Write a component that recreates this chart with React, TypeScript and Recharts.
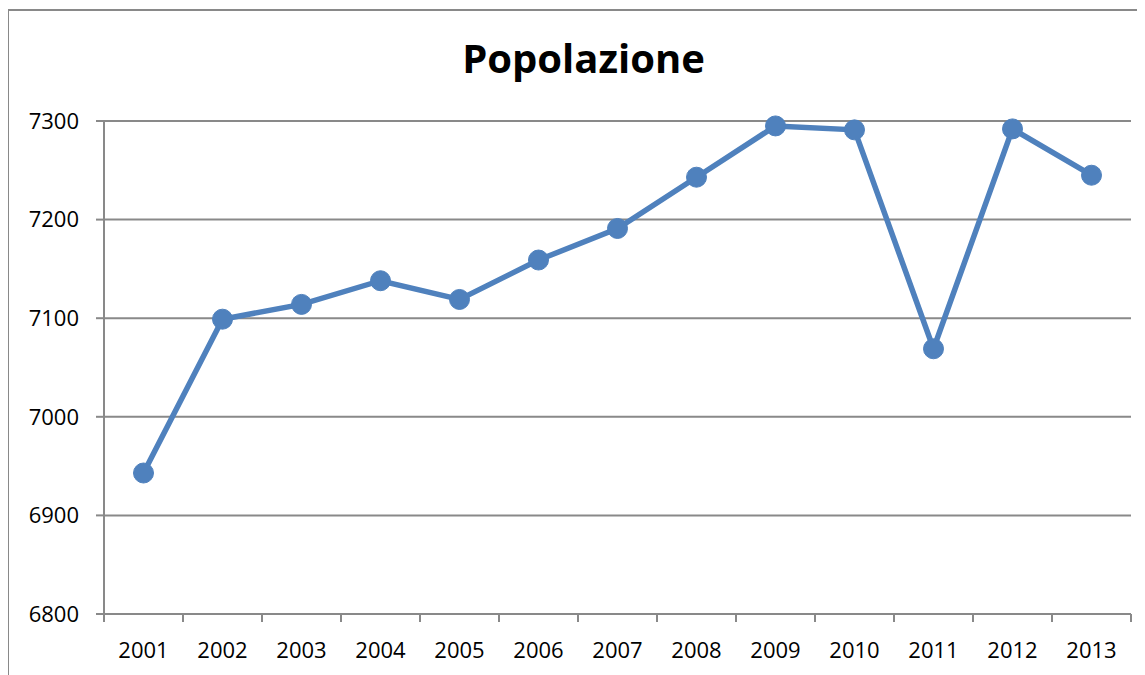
import React from 'react';
import { LineChart, Line, XAxis, YAxis, CartesianGrid } from 'recharts';

const years = ['2001', '2002', '2003', '2004', '2005', '2006', '2007', '2008', '2009', '2010', '2011', '2012', '2013'];
const popolazione = [6943, 7099, 7114, 7138, 7119, 7159, 7191, 7243, 7295, 7291, 7069, 7292, 7245];
const yTicks = [6800, 6900, 7000, 7100, 7200, 7300];

const CHART_W = 1137;
const CHART_H = 667;
const MARGIN = { top: 113, right: 14, left: 0, bottom: 0 };
const Y_AXIS_W = 96;
const X_AXIS_H = 61;
const PLOT_W = CHART_W - MARGIN.left - MARGIN.right - Y_AXIS_W;
const HALF_STEP = PLOT_W / years.length / 2;

const GRAY = '#898989';
const BLUE = '#4F81BD';
const FONT = '"Open Sans", sans-serif';

const data = years.map((year, i) => ({ pos: i + 1, year, value: popolazione[i] }));

// Excel-style: tick marks sit between categories, labels in the middle
const boundaryTicks = [...years.map((_, i) => i + 0.5), years.length + 0.5];

const YearTick = (props: any) => {
  const { x, y, payload } = props;
  const label = years[payload.value - 0.5];
  if (!label) return null;
  return (
    <text
      x={x + HALF_STEP}
      y={y}
      dy="0.71em"
      textAnchor="middle"
      fill="#000"
      fontSize={22}
      fontFamily={FONT}
    >
      {label}
    </text>
  );
};

const App: React.FC = () => {
  return (
    <div style={{ position: 'relative', width: CHART_W, height: CHART_H }}>
      <div
        style={{
          position: 'absolute',
          left: -1,
          top: 1,
          width: CHART_W + 10,
          height: CHART_H + 10,
          borderLeft: `2px solid ${GRAY}`,
          borderTop: `2px solid ${GRAY}`,
          boxSizing: 'border-box',
        }}
      />
      <div
        style={{
          position: 'absolute',
          left: 575.5 - 300,
          top: 30,
          width: 600,
          textAlign: 'center',
          fontFamily: FONT,
          fontWeight: 700,
          fontSize: 40,
          lineHeight: '40px',
          color: '#000',
        }}
      >
        Popolazione
      </div>
      <div style={{ position: 'absolute', left: 0, top: 0 }}>
        <LineChart width={CHART_W} height={CHART_H} data={data} margin={MARGIN}>
          <CartesianGrid vertical={false} stroke={GRAY} strokeWidth={2} />
          <XAxis
            dataKey="pos"
            type="number"
            domain={[0.5, years.length + 0.5]}
            ticks={boundaryTicks}
            interval={0}
            height={X_AXIS_H}
            tickSize={8}
            tickMargin={20}
            tick={<YearTick />}
            axisLine={{ stroke: GRAY, strokeWidth: 2 }}
            tickLine={{ stroke: GRAY, strokeWidth: 2 }}
          />
          <YAxis
            domain={[6800, 7300]}
            ticks={yTicks}
            interval={0}
            width={Y_AXIS_W}
            tickSize={8}
            tickMargin={17}
            tick={{ fill: '#000', fontSize: 22, fontFamily: FONT }}
            axisLine={{ stroke: GRAY, strokeWidth: 2 }}
            tickLine={{ stroke: GRAY, strokeWidth: 2 }}
          />
          <Line
            type="linear"
            dataKey="value"
            stroke={BLUE}
            strokeWidth={5.5}
            dot={{ r: 10, fill: BLUE, stroke: BLUE, strokeWidth: 1 }}
            activeDot={false}
            isAnimationActive={false}
          />
        </LineChart>
      </div>
    </div>
  );
};

export default App;
